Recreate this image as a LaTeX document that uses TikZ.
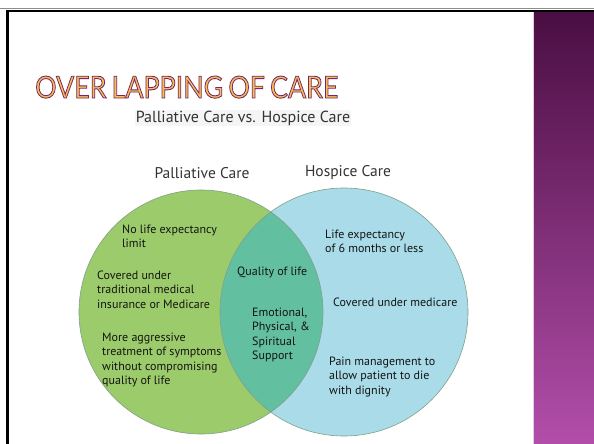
\documentclass[tikz,border=0pt]{standalone}
\usepackage{fontspec}
\setmainfont{PT Sans}
\newfontfamily\titlefont[WordSpace=0.75]{Lato}
\usepackage{graphicx}
\definecolor{palliative}{HTML}{9CCB6B}
\definecolor{hospice}{HTML}{A9DCE8}
\definecolor{shared}{HTML}{62BFA0}
\definecolor{ringline}{HTML}{7FA08A}
\definecolor{stripTop}{HTML}{4A0E42}
\definecolor{stripBot}{HTML}{B24EAA}
\definecolor{titleFill}{HTML}{F9BC58}
\definecolor{bodyText}{HTML}{141414}
% outlined title: fill + stroke text rendering, purple stroke
\newcommand{\outlined}[1]{\special{pdf:literal direct 0.45 0.16 0.38 RG 2 Tr 0.28 w}#1}
\newcommand{\titletext}{\resizebox{303pt}{22pt}{\titlefont\outlined{OVER LAPPING OF CARE}}}
\tikzset{
  bodytext/.style={anchor=north west, inner sep=0pt, align=left, text=bodyText,
    font=\fontsize{12}{14.5}\selectfont},
  header/.style={inner sep=0pt, text=black!80, font=\fontsize{15.5}{17}\selectfont},
}
\begin{document}
\begin{tikzpicture}[x=1pt,y=-1pt]
\useasboundingbox (0,0) rectangle (594,444);
\fill[white] (0,0) rectangle (594,444);
% slide frame
\draw[black!45, line width=1pt] (0,9) -- (594,9);
\fill[black] (6,10) rectangle (594,12.5);
\fill[black] (6,10) rectangle (9,444);
% side strip
\shade[top color=stripTop, bottom color=stripBot] (533,12.5) rectangle (594,444);
\draw[white!70!stripBot, line width=0.6pt] (533.5,12.5) -- (533.5,444);
% title and subtitle
\node[anchor=base west, inner sep=0pt, text=titleFill] (title) at (35,98) {\titletext};
\node[inner sep=1pt, fill=black!4, text=black!80, font=\fontsize{16}{18}\selectfont] (subtitle) at (243,118) {Palliative Care vs. Hospice Care};
% circles
\fill[palliative] (201,312) circle[radius=122pt];
\fill[hospice] (344,312) circle[radius=124pt];
\begin{scope}
  \clip (201,312) circle[radius=122pt];
  \fill[shared] (344,312) circle[radius=124pt];
\end{scope}
\draw[ringline, line width=0.6pt] (201,312) circle[radius=122pt];
\draw[ringline, line width=0.6pt] (344,312) circle[radius=124pt];
% headers
\node[header] (hpal) at (202,173) {Palliative Care};
\node[header] (hhos) at (348,173) {Hospice Care};
% palliative side
\node[bodytext] (p1) at (122,224.5) {No life expectancy\\limit};
\node[bodytext] (p2) at (97,270.5) {Covered under\\traditional medical\\insurance or Medicare};
\node[bodytext] (p3) at (102,332.5) {More aggressive\\treatment of symptoms\\without compromising\\quality of life};
% shared
\node[bodytext] (s1) at (237,266.5) {Quality of life};
\node[bodytext] (s2) at (252,307.5) {Emotional,\\Physical, \&\\Spiritual\\Support};
% hospice side
\node[bodytext] (h1) at (325,229.5) {Life expectancy\\of 6 months or less};
\node[bodytext] (h2) at (333,297.5) {Covered under medicare};
\node[bodytext] (h3) at (329,356.5) {Pain management to\\allow patient to die\\with dignity};
\end{tikzpicture}
\end{document}
